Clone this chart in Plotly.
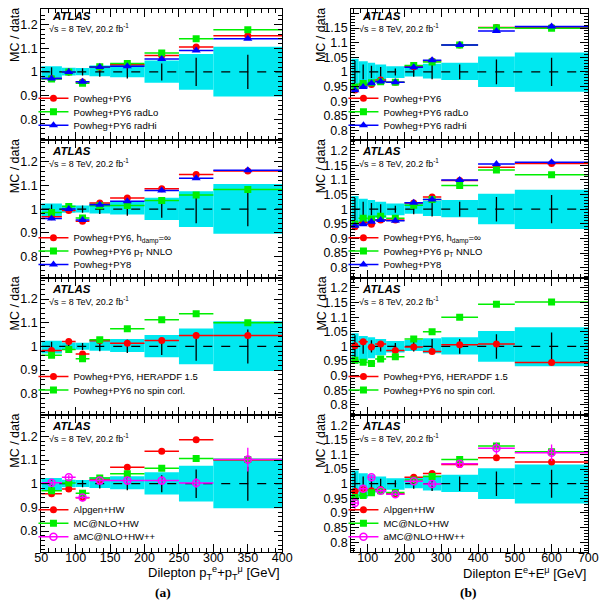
import plotly.graph_objects as go

# The page body adds an 8 px margin, so the figure is drawn 8 px in from the corner
OFF = 8
W, H = 610 - OFF, 600 - OFF

# ---------------- Data: left column (dilepton pT sum) ----------------
pt_edges = [50, 80, 100, 120, 150, 200, 250, 300, 400]
pt_band_up = [0.024, 0.017, 0.016, 0.027, 0.031, 0.048, 0.076, 0.106]
pt_band_dn = [0.030, 0.015, 0.014, 0.018, 0.023, 0.046, 0.075, 0.104]
pt_data_err = [0.020, 0.015, 0.015, 0.020, 0.028, 0.036, 0.060, 0.072]

pt_p1_powheg_py6 = [0.972, 1.000, 0.957, 1.020, 1.030, 1.069, 1.105, 1.153]
pt_p1_radlo = [0.970, 1.000, 0.952, 1.022, 1.035, 1.080, 1.140, 1.178]
pt_p1_radhi = [0.972, 1.000, 0.958, 1.021, 1.024, 1.055, 1.090, 1.140]

pt_p2_hdamp = [0.968, 0.994, 0.949, 1.026, 1.047, 1.086, 1.146, 1.161]
pt_p2_ptnnlo = [0.986, 1.011, 0.963, 1.014, 1.016, 1.037, 1.060, 1.083]
pt_p2_py8 = [0.961, 1.001, 0.954, 1.019, 1.033, 1.079, 1.131, 1.164]

pt_p3_herapdf = [0.983, 1.021, 0.968, 1.024, 1.013, 1.025, 1.046, 1.046]
pt_p3_nospin = [0.963, 0.987, 0.948, 1.028, 1.075, 1.113, 1.138, 1.100]

pt_p4_alpgen = [0.957, 0.978, 0.941, 1.016, 1.070, 1.137, 1.186, 1.100]
pt_p4_mcatnlo = [0.970, 1.003, 0.960, 1.024, 1.042, 1.065, 1.106, 1.102]
pt_p4_amcatnlo = [1.004, 1.027, 0.942, 1.013, 1.013, 1.013, 1.003, 1.102]
pt_p4_amc_err = [0.010, 0.010, 0.008, 0.010, 0.012, 0.015, 0.020, 0.050]

# ---------------- Data: right column (dilepton E sum) ----------------
e_edges = [55, 75, 100, 120, 150, 200, 250, 300, 400, 500, 700]
e_band_up = [0.045, 0.036, 0.031, 0.025, 0.019, 0.022, 0.028, 0.031, 0.053, 0.066]
e_band_dn = [0.058, 0.048, 0.040, 0.030, 0.021, 0.016, 0.023, 0.028, 0.052, 0.068]
e_data_err = [0.038, 0.025, 0.021, 0.017, 0.012, 0.017, 0.025, 0.025, 0.042, 0.048]

e_p1_powheg_py6 = [0.938, 0.955, 0.957, 0.972, 0.965, 1.018, 1.037, 1.092, 1.152, 1.152]
e_p1_radlo = [0.948, 0.960, 0.963, 0.966, 0.965, 1.022, 1.034, 1.092, 1.151, 1.149]
e_p1_radhi = [0.937, 0.948, 0.961, 0.967, 0.965, 1.016, 1.040, 1.092, 1.140, 1.155]

e_p2_hdamp = [0.940, 0.954, 0.948, 0.963, 0.963, 1.021, 1.042, 1.098, 1.143, 1.156]
e_p2_ptnnlo = [0.949, 0.969, 0.966, 0.976, 0.969, 1.013, 1.033, 1.081, 1.134, 1.118]
e_p2_py8 = [0.943, 0.948, 0.957, 0.963, 0.960, 1.022, 1.033, 1.100, 1.154, 1.160]

e_p3_herapdf = [1.002, 1.016, 0.998, 1.008, 0.986, 0.998, 0.983, 1.006, 1.008, 0.945]
e_p3_nospin = [0.953, 0.946, 0.942, 0.957, 0.965, 1.025, 1.050, 1.100, 1.144, 1.152]

e_p4_alpgen = [0.974, 0.979, 0.976, 0.980, 0.966, 1.022, 1.035, 1.066, 1.089, 1.074]
e_p4_mcatnlo = [0.953, 0.960, 0.969, 0.976, 0.970, 1.013, 1.025, 1.083, 1.129, 1.109]
e_p4_amcatnlo = [0.934, 0.983, 1.022, 0.976, 0.964, 1.008, 0.999, 1.068, 1.121, 1.106]
e_p4_amc_err = [0.020, 0.008, 0.008, 0.006, 0.006, 0.006, 0.008, 0.010, 0.020, 0.028]

RED, GREEN, BLUE, MAG = "#FF0000", "#00EE00", "#0000FF", "#FF00FF"
CYAN = "#00E8F0"
FONT = "Liberation Sans"

# series per panel: (values, label, color, symbol, yerr)
left_panels = [
    [(pt_p1_powheg_py6, "Powheg+PY6", RED, "circle", None),
     (pt_p1_radlo, "Powheg+PY6 radLo", GREEN, "square", None),
     (pt_p1_radhi, "Powheg+PY6 radHi", BLUE, "triangle-up", None)],
    [(pt_p2_hdamp, "Powheg+PY6, h<sub>damp</sub>=∞", RED, "circle", None),
     (pt_p2_ptnnlo, "Powheg+PY6 p<sub>T</sub> NNLO", GREEN, "square", None),
     (pt_p2_py8, "Powheg+PY8", BLUE, "triangle-up", None)],
    [(pt_p3_herapdf, "Powheg+PY6, HERAPDF 1.5", RED, "circle", None),
     (pt_p3_nospin, "Powheg+PY6 no spin corl.", GREEN, "square", None)],
    [(pt_p4_alpgen, "Alpgen+HW", RED, "circle", None),
     (pt_p4_mcatnlo, "MC@NLO+HW", GREEN, "square", None),
     (pt_p4_amcatnlo, "aMC@NLO+HW++", MAG, "circle-open", pt_p4_amc_err)],
]
right_panels = [
    [(e_p1_powheg_py6, "Powheg+PY6", RED, "circle", None),
     (e_p1_radlo, "Powheg+PY6 radLo", GREEN, "square", None),
     (e_p1_radhi, "Powheg+PY6 radHi", BLUE, "triangle-up", None)],
    [(e_p2_hdamp, "Powheg+PY6, h<sub>damp</sub>=∞", RED, "circle", None),
     (e_p2_ptnnlo, "Powheg+PY6 p<sub>T</sub> NNLO", GREEN, "square", None),
     (e_p2_py8, "Powheg+PY8", BLUE, "triangle-up", None)],
    [(e_p3_herapdf, "Powheg+PY6, HERAPDF 1.5", RED, "circle", None),
     (e_p3_nospin, "Powheg+PY6 no spin corl.", GREEN, "square", None)],
    [(e_p4_alpgen, "Alpgen+HW", RED, "circle", None),
     (e_p4_mcatnlo, "MC@NLO+HW", GREEN, "square", None),
     (e_p4_amcatnlo, "aMC@NLO+HW++", MAG, "circle-open", e_p4_amc_err)],
]

# ---------------- Layout geometry (screen pixels) ----------------
col_px = [(35, 283), (354, 598)]
ref_top = [2, 139.5, 277, 414.5]          # panel tops in the reference
bottoms = [139.5, 277, 414.5, 552]
tops = [max(t, OFF + 0.5) for t in ref_top]
scale = [237.0, 293.0]                    # pixels per unit of ratio
legend_first = [99, 238.5, 377.5, 511]    # centre of first legend entry
legend_step = 13.5


def px(x):
    return (x - OFF) / W


def py(y):
    return 1 - (y - OFF) / H


fig = go.Figure()
layout = dict(width=W, height=H, margin=dict(l=0, r=0, t=0, b=0),
              paper_bgcolor="white", plot_bgcolor="white",
              barmode="overlay", showlegend=True,
              font=dict(family=FONT, color="black"))
annotations = []
legend_count = 0

for c, (edges, band_up, band_dn, derr, panels, dtick, ydt_minor, xdt, xdt_minor) in enumerate([
        (pt_edges, pt_band_up, pt_band_dn, pt_data_err, left_panels, 0.1, 0.02, 50, 10),
        (e_edges, e_band_up, e_band_dn, e_data_err, right_panels, 0.05, 0.01, 100, 20)]):
    centers = [(a + b) / 2 for a, b in zip(edges[:-1], edges[1:])]
    widths = [b - a for a, b in zip(edges[:-1], edges[1:])]
    halfw = [w / 2 for w in widths]
    x0, x1 = col_px[c]
    for r in range(4):
        k = r * 2 + c + 1
        xa = "x" if k == 1 else f"x{k}"
        ya = "y" if k == 1 else f"y{k}"
        T, B = tops[r], bottoms[r]
        y1 = ref_top[r] + 69                 # pixel of ratio = 1
        yr = [1 - (B - y1) / scale[c], 1 + (y1 - T) / scale[c]]
        # data uncertainty band
        fig.add_trace(go.Bar(x=centers, y=[u + d for u, d in zip(band_up, band_dn)],
                             base=[1 - d for d in band_dn], width=widths,
                             marker=dict(color=CYAN, line=dict(width=0)),
                             xaxis=xa, yaxis=ya, showlegend=False, hoverinfo="skip"))
        # data stat error bars
        fig.add_trace(go.Scatter(x=centers, y=[1.0] * len(centers), mode="markers",
                                 marker=dict(size=1, color="black", opacity=0),
                                 error_y=dict(type="data", array=derr, color="black",
                                              thickness=1.3, width=0),
                                 xaxis=xa, yaxis=ya, showlegend=False, hoverinfo="skip"))
        # reference line at 1
        fig.add_trace(go.Scatter(x=[edges[0], edges[-1]], y=[1, 1], mode="lines",
                                 line=dict(color="black", width=1.2, dash="dash"),
                                 xaxis=xa, yaxis=ya, showlegend=False, hoverinfo="skip"))
        # MC predictions
        for j, (vals, label, col, sym, yerr) in enumerate(panels[r]):
            msize = 8 if sym == "triangle-up" else 7
            mk = dict(color=col, symbol=sym, size=msize)
            if sym == "circle-open":
                mk["line"] = dict(color=col, width=1.5)
            ey = dict(type="data", array=yerr, color=col, thickness=1.3, width=0) if yerr else None
            fig.add_trace(go.Scatter(x=centers, y=vals, mode="markers", marker=mk,
                                     error_x=dict(type="data", array=halfw, color=col,
                                                  thickness=1.5, width=0),
                                     error_y=ey,
                                     xaxis=xa, yaxis=ya, showlegend=False))
            legend_count += 1
            lg = "legend" if legend_count == 1 else f"legend{legend_count}"
            fig.add_trace(go.Scatter(x=[None], y=[None], mode="lines+markers", name=label,
                                     marker=mk, line=dict(color=col, width=1.5),
                                     xaxis=xa, yaxis=ya, legend=lg, showlegend=True))
            cy = legend_first[r] + j * legend_step
            layout[lg] = dict(x=px(x0 - 8), y=py(cy - 16), xanchor="left", yanchor="top",
                              bgcolor="rgba(0,0,0,0)", font=dict(size=9.5, family=FONT),
                              itemwidth=30)
        layout[("xaxis" if k == 1 else f"xaxis{k}")] = dict(
            domain=[px(x0), px(x1)], anchor=ya, range=[edges[0], edges[-1]],
            showline=True, linecolor="black", linewidth=1, mirror="allticks",
            ticks="inside", ticklen=8, tickcolor="black", tick0=edges[0] if c == 0 else 0,
            dtick=xdt, showgrid=False, zeroline=False,
            minor=dict(ticks="inside", ticklen=4, dtick=xdt_minor, tickcolor="black", showgrid=False),
            showticklabels=(r == 3), ticklabelstandoff=-6,
            tickfont=dict(size=12.5, family=FONT))
        layout[("yaxis" if k == 1 else f"yaxis{k}")] = dict(
            domain=[py(B), py(T)], anchor=xa, range=yr,
            showline=True, linecolor="black", linewidth=1, mirror="allticks",
            ticks="inside", ticklen=8, tickcolor="black", tick0=0, dtick=dtick,
            showgrid=False, zeroline=False,
            minor=dict(ticks="inside", ticklen=4, dtick=ydt_minor, tickcolor="black", showgrid=False),
            tickfont=dict(size=12.5, family=FONT))
        # texts
        RT = ref_top[r]
        annotations.append(dict(x=px(x0 + 9), y=py(max(RT + 11, 15.5)), xref="paper", yref="paper",
                                text="<b><i>ATLAS</i></b>", showarrow=False,
                                xanchor="left", yanchor="middle",
                                font=dict(size=11.5, family=FONT)))
        annotations.append(dict(x=px(x0 + 6), y=py(max(RT + 23, 27)), xref="paper", yref="paper",
                                text="√s = 8 TeV, 20.2 fb<sup>-1</sup>", showarrow=False,
                                xanchor="left", yanchor="middle",
                                font=dict(size=9, family=FONT)))
        annotations.append(dict(x=px(x0 - 27 if c == 0 else x0 - 31), y=py(max(RT + 26, 34)),
                                xref="paper", yref="paper", text="MC / data",
                                showarrow=False, textangle=-90, xanchor="center",
                                yanchor="middle", font=dict(size=12.5, family=FONT)))

annotations.append(dict(x=px(283), y=py(573), xref="paper", yref="paper",
                        text="Dilepton p<sub>T</sub><sup>e</sup>+p<sub>T</sub><sup>μ</sup> [GeV]",
                        showarrow=False, xanchor="right", yanchor="middle",
                        font=dict(size=13, family=FONT)))
annotations.append(dict(x=px(598), y=py(573), xref="paper", yref="paper",
                        text="Dilepton E<sup>e</sup>+E<sup>μ</sup> [GeV]",
                        showarrow=False, xanchor="right", yanchor="middle",
                        font=dict(size=13, family=FONT)))
annotations.append(dict(x=px(160), y=py(592), xref="paper", yref="paper", text="<b>(a)</b>",
                        showarrow=False, xanchor="center", yanchor="middle",
                        font=dict(size=13.5, family="Liberation Serif")))
annotations.append(dict(x=px(475), y=py(592), xref="paper", yref="paper", text="<b>(b)</b>",
                        showarrow=False, xanchor="center", yanchor="middle",
                        font=dict(size=13.5, family="Liberation Serif")))

layout["annotations"] = annotations
fig.update_layout(**layout)
fig.write_html("out.html")
